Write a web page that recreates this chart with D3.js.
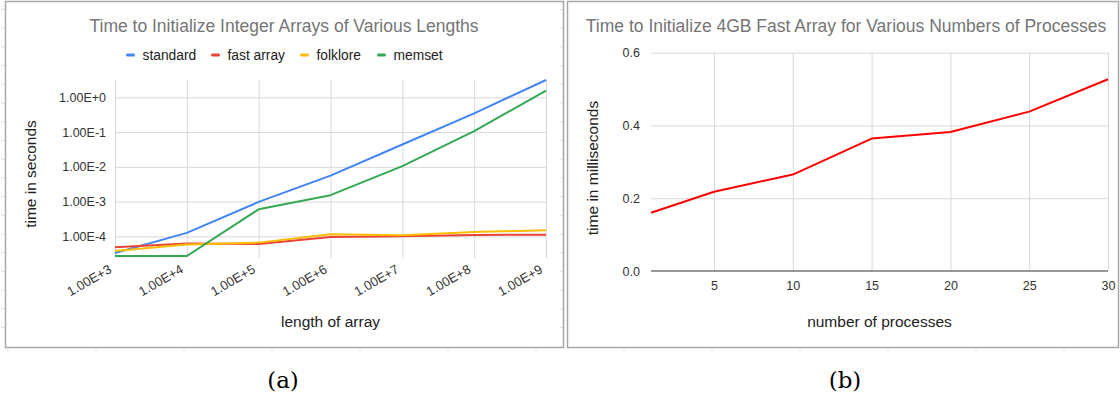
<!DOCTYPE html>
<html>
<head>
<meta charset="utf-8">
<script src="https://cdn.jsdelivr.net/npm/d3@7"></script>
<style>
  body { margin: 0; background: #fff; }
  svg text { font-family: "Liberation Sans", Arial, sans-serif; }
</style>
</head>
<body>
<script>
// data: left chart (log-log)
const lengths = [1e3, 1e4, 1e5, 1e6, 1e7, 1e8, 1e9];
const seriesNames = ['standard', 'fast array', 'folklore', 'memset'];
const standard = [3.3e-5, 1.26e-4, 9.8e-4, 5.6e-3, 0.044, 0.346, 3.15];
const fastArray = [4.85e-5, 6.2e-5, 6.0e-5, 9.6e-5, 1.0e-4, 1.1e-4, 1.12e-4];
const folklore = [3.8e-5, 5.8e-5, 6.6e-5, 1.15e-4, 1.07e-4, 1.34e-4, 1.5e-4];
const memset = [2.72e-5, 2.72e-5, 6.0e-4, 1.53e-3, 0.0105, 0.107, 1.55];
const leftYTicks = [1e-4, 1e-3, 1e-2, 1e-1, 1];

// data: right chart
const processes = [1, 5, 10, 15, 20, 25, 30];
const fastTimes = [0.160, 0.218, 0.265, 0.364, 0.382, 0.438, 0.527];
const rightXTicks = [5, 10, 15, 20, 25, 30];
const rightYTicks = [0, 0.2, 0.4, 0.6];

const colors = ['#4285f4', '#ea4335', '#fbbc04', '#34a853'];

const width = 1120, height = 398;

const svg = d3.select('body').append('svg')
  .attr('width', width)
  .attr('height', height);

// faint spreadsheet cell marks outside the boxes
const cells = svg.append('g').attr('stroke', '#e0e0e0').attr('stroke-width', 1);
d3.range(9.5, 340, 18.7).forEach(y => {
  cells.append('line').attr('x1', 1).attr('x2', 5).attr('y1', y).attr('y2', y);
  cells.append('line').attr('x1', 560).attr('x2', 563).attr('y1', y).attr('y2', y);
});
d3.range(8, 1120, 88).forEach(x => {
  cells.append('line').attr('x1', x).attr('x2', x).attr('y1', 349).attr('y2', 352);
});

// chart boxes
svg.append('rect').attr('x', 5.5).attr('y', 1.5).attr('width', 558).attr('height', 346)
  .attr('fill', 'none').attr('stroke', '#a8a8a8').attr('stroke-width', 1.5);
svg.append('rect').attr('x', 567.5).attr('y', 1.5).attr('width', 551).attr('height', 346)
  .attr('fill', 'none').attr('stroke', '#a8a8a8').attr('stroke-width', 1.5);

// ---------- left chart ----------
const L = { left: 115, right: 546, top: 80, bottom: 256 };
const allVals = [].concat(standard, fastArray, folklore, memset);

const xL = d3.scaleLog().domain([1e3, 1e9]).range([L.left, L.right]);
const yL = d3.scaleLog().domain(d3.extent(allVals)).range([L.bottom, L.top]);

const fmtE = d => {
  const e = Math.round(Math.log10(d));
  return '1.00E' + (e >= 0 ? '+' : '') + e;
};

const left = svg.append('g');

// grid
left.append('g')
  .attr('transform', `translate(0,${L.bottom + 2})`)
  .call(d3.axisBottom(xL).tickValues(lengths).tickSize(-(L.bottom + 2 - L.top)).tickFormat(''))
  .call(g => g.select('.domain').remove())
  .call(g => g.selectAll('line').attr('stroke', '#d9d9d9'));
left.append('g')
  .attr('transform', `translate(${L.left},0)`)
  .call(d3.axisLeft(yL).tickValues(leftYTicks).tickSize(-(L.right - L.left)).tickFormat(''))
  .call(g => g.select('.domain').remove())
  .call(g => g.selectAll('line').attr('stroke', '#d9d9d9'));

// y tick labels
left.append('g')
  .attr('transform', `translate(${L.left - 6},0)`)
  .call(d3.axisLeft(yL).tickValues(leftYTicks).tickSize(0).tickFormat(fmtE))
  .call(g => g.select('.domain').remove())
  .call(g => g.selectAll('text').attr('font-size', 12.5).attr('fill', '#333')
    .style('font-family', '"Liberation Sans", Arial, sans-serif'));

// x tick labels (rotated)
left.append('g')
  .attr('transform', `translate(0,${L.bottom})`)
  .call(d3.axisBottom(xL).tickValues(lengths).tickSize(0).tickFormat(fmtE))
  .call(g => g.select('.domain').remove())
  .call(g => g.selectAll('text')
    .attr('font-size', 13).attr('fill', '#333')
    .style('font-family', '"Liberation Sans", Arial, sans-serif')
    .attr('text-anchor', 'end')
    .attr('dy', 0)
    .attr('y', 0)
    .attr('transform', 'translate(-3,16) rotate(-30)'));

// lines
const lineL = d3.line().x((d, i) => xL(lengths[i])).y(d => yL(d));
[standard, fastArray, folklore, memset].forEach((s, k) => {
  left.append('path')
    .datum(s)
    .attr('fill', 'none')
    .attr('stroke', colors[k])
    .attr('stroke-width', 2)
    .attr('stroke-linejoin', 'round')
    .attr('d', lineL);
});

// title
left.append('text')
  .attr('x', 284).attr('y', 32)
  .attr('text-anchor', 'middle')
  .attr('font-size', 17.5)
  .attr('fill', '#757575')
  .text('Time to Initialize Integer Arrays of Various Lengths');

// legend
const legendX = [126, 211, 300, 377];
const legend = left.append('g');
seriesNames.forEach((name, k) => {
  legend.append('rect')
    .attr('x', legendX[k]).attr('y', 53.5)
    .attr('width', 9).attr('height', 3)
    .attr('rx', 1.5)
    .attr('fill', colors[k]);
  legend.append('text')
    .attr('x', legendX[k] + 16.5).attr('y', 59.5)
    .attr('font-size', 13.8)
    .attr('fill', '#222')
    .text(name);
});

// axis titles
left.append('text')
  .attr('transform', `translate(36,${(L.top + L.bottom) / 2 + 6}) rotate(-90)`)
  .attr('text-anchor', 'middle')
  .attr('font-size', 15.5)
  .attr('fill', '#222')
  .text('time in seconds');
left.append('text')
  .attr('x', (L.left + L.right) / 2).attr('y', 327)
  .attr('text-anchor', 'middle')
  .attr('font-size', 15.5)
  .attr('fill', '#222')
  .text('length of array');

// ---------- right chart ----------
const R = { left: 651, right: 1108, top: 52.7, bottom: 271 };
const xR = d3.scaleLinear().domain([1, 30]).range([R.left, R.right]);
const yR = d3.scaleLinear().domain([0, 0.6]).range([R.bottom, R.top]);

const right = svg.append('g');

right.append('g')
  .attr('transform', `translate(0,${R.bottom})`)
  .call(d3.axisBottom(xR).tickValues(rightXTicks).tickSize(-(R.bottom - R.top)).tickFormat(''))
  .call(g => g.select('.domain').remove())
  .call(g => g.selectAll('line').attr('stroke', '#d9d9d9'));
right.append('g')
  .attr('transform', `translate(${R.left},0)`)
  .call(d3.axisLeft(yR).tickValues(rightYTicks.slice(1)).tickSize(-(R.right - R.left)).tickFormat(''))
  .call(g => g.select('.domain').remove())
  .call(g => g.selectAll('line').attr('stroke', '#d9d9d9'));

// baseline
right.append('line')
  .attr('x1', R.left).attr('x2', R.right)
  .attr('y1', yR(0)).attr('y2', yR(0))
  .attr('stroke', '#333').attr('stroke-width', 1);

right.append('g')
  .attr('transform', `translate(${R.left - 8},0)`)
  .call(d3.axisLeft(yR).tickValues(rightYTicks).tickSize(0).tickFormat(d3.format('.1f')))
  .call(g => g.select('.domain').remove())
  .call(g => g.selectAll('text').attr('font-size', 12.5).attr('fill', '#333')
    .style('font-family', '"Liberation Sans", Arial, sans-serif'));

right.append('g')
  .attr('transform', `translate(0,${R.bottom + 7})`)
  .call(d3.axisBottom(xR).tickValues(rightXTicks).tickSize(0))
  .call(g => g.select('.domain').remove())
  .call(g => g.selectAll('text').attr('font-size', 12.5).attr('fill', '#333')
    .style('font-family', '"Liberation Sans", Arial, sans-serif'));

const lineR = d3.line().x((d, i) => xR(processes[i])).y(d => yR(d));
right.append('path')
  .datum(fastTimes)
  .attr('fill', 'none')
  .attr('stroke', '#ff0000')
  .attr('stroke-width', 2)
  .attr('stroke-linejoin', 'round')
  .attr('d', lineR);

right.append('text')
  .attr('x', 846).attr('y', 32)
  .attr('text-anchor', 'middle')
  .attr('font-size', 17.5)
  .attr('fill', '#757575')
  .text('Time to Initialize 4GB Fast Array for Various Numbers of Processes');

right.append('text')
  .attr('transform', `translate(598,168) rotate(-90)`)
  .attr('text-anchor', 'middle')
  .attr('font-size', 15.5)
  .attr('fill', '#222')
  .text('time in milliseconds');
right.append('text')
  .attr('x', (R.left + R.right) / 2).attr('y', 327)
  .attr('text-anchor', 'middle')
  .attr('font-size', 15.5)
  .attr('fill', '#222')
  .text('number of processes');

// captions
svg.append('text')
  .attr('x', 283).attr('y', 388)
  .attr('text-anchor', 'middle')
  .attr('font-size', 23)
  .style('font-family', '"DejaVu Serif", "Liberation Serif", serif')
  .attr('fill', '#000')
  .text('(a)');
svg.append('text')
  .attr('x', 845).attr('y', 388)
  .attr('text-anchor', 'middle')
  .attr('font-size', 23)
  .style('font-family', '"DejaVu Serif", "Liberation Serif", serif')
  .attr('fill', '#000')
  .text('(b)');
</script>
</body>
</html>
